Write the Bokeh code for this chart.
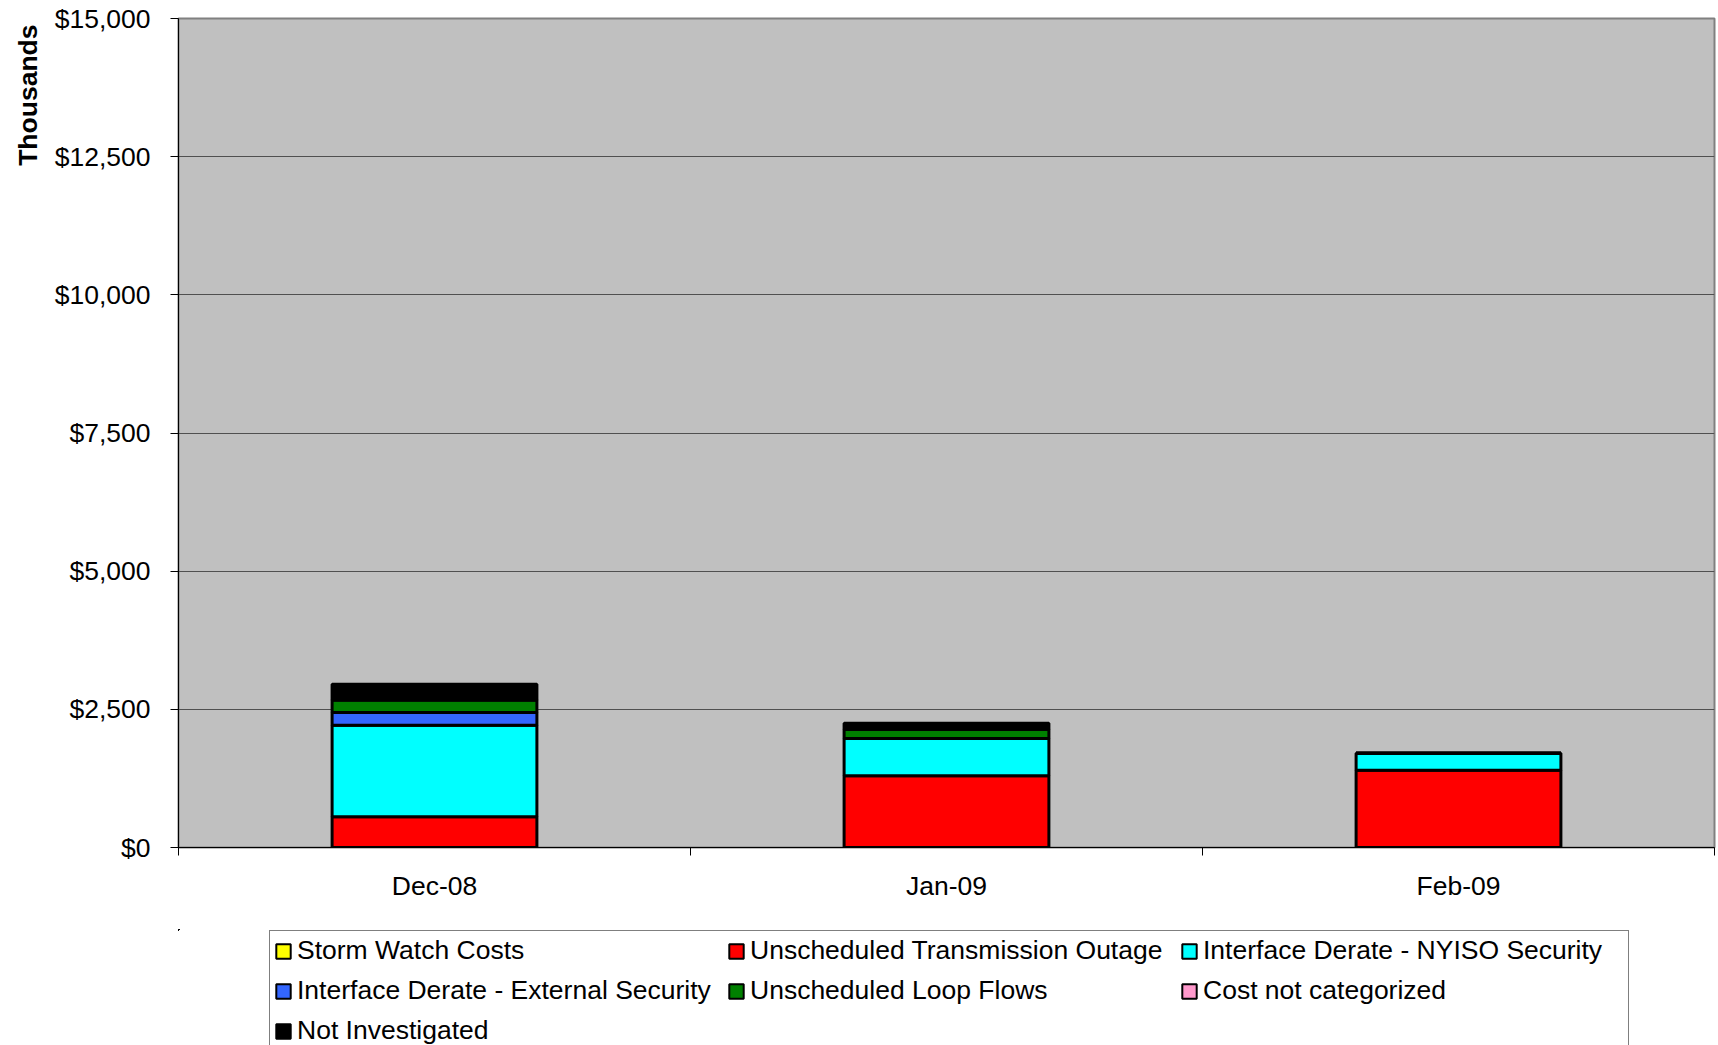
from bokeh.plotting import figure
from bokeh.layouts import column
from bokeh.models import (ColumnDataSource, Range1d, FixedTicker, NumeralTickFormatter,
                          Legend, LegendItem, Title)
from bokeh.embed import file_html
from bokeh.resources import INLINE

# ---- data (thousands of dollars) ----
months = ["Dec-08", "Jan-09", "Feb-09"]
series_names = ["Storm Watch Costs", "Unscheduled Transmission Outage",
                "Interface Derate - NYISO Security", "Interface Derate - External Security",
                "Unscheduled Loop Flows", "Cost not categorized", "Not Investigated"]
storm_watch = [0, 0, 0]
transmission_outage = [555, 1296, 1400]
nyiso_security = [1658, 675, 307]
external_security = [228, 0, 0]
loop_flows = [230, 170, 0]
not_categorized = [0, 0, 0]
not_investigated = [284, 109, 0]
y_ticks = [0, 2500, 5000, 7500, 10000, 12500, 15000]

colors = ["#FFFF00", "#FF0000", "#00FFFF", "#3366FF", "#008000", "#FF99CC", "#000000"]

keys = ["s0", "s1", "s2", "s3", "s4", "s5", "s6"]
values = [storm_watch, transmission_outage, nyiso_security, external_security,
          loop_flows, not_categorized, not_investigated]
data = {"x": [i + 0.5 for i in range(len(months))]}
for k, v in zip(keys, values):
    data[k] = v
source = ColumnDataSource(data)

FONT = "Liberation Sans"

p = figure(width=1718, height=929, output_backend="svg", toolbar_location=None,
           x_range=Range1d(0, len(months)), y_range=Range1d(0, 15000),
           min_border_left=178, min_border_right=4, min_border_top=18, min_border_bottom=82)
p.background_fill_color = "#C0C0C0"
p.border_fill_color = "white"
p.outline_line_color = "#808080"
p.outline_line_width = 2

renderers = p.vbar_stack(keys, x="x", width=0.4, source=source, fill_color=colors,
                         line_color="black", line_width=3)

# y axis
p.yaxis.ticker = FixedTicker(ticks=y_ticks, minor_ticks=[])
p.yaxis.formatter = NumeralTickFormatter(format="$0,0")
p.yaxis.major_label_text_font = FONT
p.yaxis.major_label_text_font_size = "26.5px"
p.yaxis.major_label_text_color = "black"
p.yaxis.major_tick_out = 8
p.yaxis.major_tick_in = 0
p.yaxis.major_label_standoff = 20
p.yaxis.axis_line_color = "black"
p.yaxis.major_tick_line_color = "black"

# x axis: labels at centres, ticks at category boundaries
p.xaxis.ticker = FixedTicker(ticks=[i + 0.5 for i in range(len(months))],
                             minor_ticks=list(range(len(months) + 1)))
p.xaxis.major_label_overrides = {i + 0.5: m for i, m in enumerate(months)}
p.xaxis.major_label_text_font = FONT
p.xaxis.major_label_text_font_size = "26.5px"
p.xaxis.major_label_text_color = "black"
p.xaxis.major_tick_out = 0
p.xaxis.major_tick_in = 0
p.xaxis.minor_tick_out = 8
p.xaxis.minor_tick_in = 0
p.xaxis.minor_tick_line_color = "black"
p.xaxis.major_label_standoff = 15
p.xaxis.axis_line_color = "black"

p.xgrid.grid_line_color = None
p.ygrid.grid_line_color = "#505050"
p.ygrid.grid_line_width = 1

# y axis title at top-left
p.add_layout(Title(text="Thousands", align="right", offset=6, standoff=18,
                   text_font=FONT, text_font_size="26.5px", text_font_style="bold",
                   text_color="black"), "left")

# ---- legend strip below the chart ----
# the strip re-uses the same stacked series (kept outside its visible ranges)
# so that the legend swatches take their colours from real glyphs
lg = figure(width=1718, height=116, output_backend="svg", toolbar_location=None,
            x_range=Range1d(3.5, 4.5), y_range=Range1d(-2, -1),
            x_axis_location=None, y_axis_location=None,
            min_border_left=0, min_border_right=0, min_border_top=0, min_border_bottom=0)
lg.grid.visible = False
lg.outline_line_color = None
lg.background_fill_color = "white"
lg.border_fill_color = "white"
swatches = lg.vbar_stack(keys, x="x", width=0.4, source=source, fill_color=colors,
                         line_color="black", line_width=2)
items = [LegendItem(label=n, renderers=[r]) for n, r in zip(series_names, swatches)]
legend = Legend(items=items, location=(91, -6), ncols=3, orientation="horizontal",
                label_text_font=FONT, label_text_font_size="26.5px", label_text_color="black",
                glyph_width=18, glyph_height=18, label_standoff=5, label_width=421,
                label_height=30, spacing=9, padding=4, margin=0,
                border_line_color="black", border_line_width=1,
                background_fill_color="white", background_fill_alpha=1)
lg.add_layout(legend, "center")

layout = column(p, lg, spacing=0)
open("out.html", "w").write(file_html(layout, INLINE))
